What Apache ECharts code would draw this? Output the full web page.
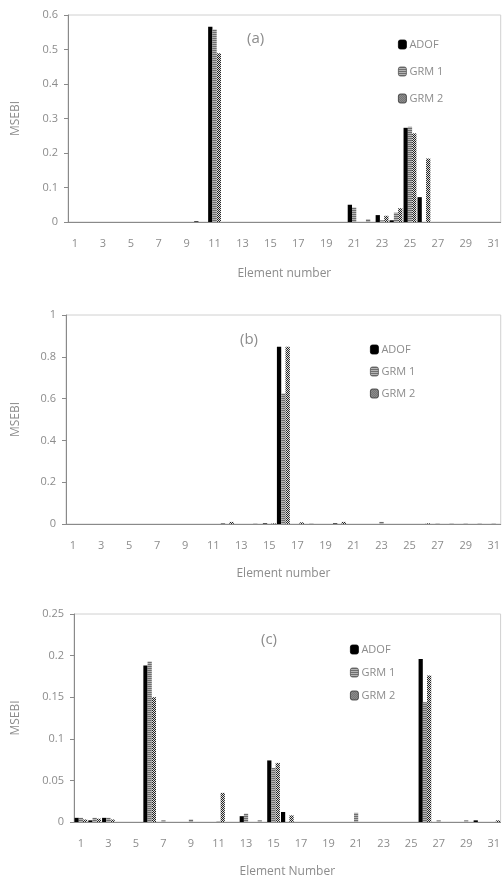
<!DOCTYPE html>
<html>
<head>
<meta charset="utf-8">
<script src="https://cdn.jsdelivr.net/npm/echarts@6/dist/echarts.min.js"></script>
<style>
  html, body { margin: 0; padding: 0; background: #fff; }
  #chart { width: 503px; height: 879px; }
</style>
</head>
<body>
<div id="chart"></div>
<script>
// element numbers 1..31
const elements = Array.from({ length: 31 }, (_, i) => String(i + 1))

// nonzero values only, keyed by element number
const adofA = { 10: 0.002, 11: 0.566, 21: 0.05, 23: 0.02, 24: 0.005, 25: 0.273, 26: 0.072 }
const grm1A = { 11: 0.558, 21: 0.042, 22: 0.008, 23: 0.005, 24: 0.027, 25: 0.276 }
const grm2A = { 11: 0.489, 23: 0.018, 24: 0.04, 25: 0.257, 26: 0.184 }

const adofB = { 12: 0.002, 15: 0.003, 16: 0.848, 20: 0.003 }
const grm1B = { 14: 0.003, 16: 0.625, 18: 0.003, 23: 0.01, 27: 0.003, 28: 0.003, 29: 0.003, 30: 0.003, 31: 0.003 }
const grm2B = { 12: 0.01, 15: 0.003, 16: 0.848, 17: 0.008, 20: 0.01, 26: 0.003 }

const adofC = { 1: 0.005, 2: 0.002, 3: 0.005, 6: 0.188, 13: 0.007, 15: 0.074, 16: 0.012, 26: 0.196, 30: 0.002 }
const grm1C = { 1: 0.005, 2: 0.005, 3: 0.005, 6: 0.193, 7: 0.002, 9: 0.003, 11: 0.001, 13: 0.01, 14: 0.002, 15: 0.065, 21: 0.011, 26: 0.144, 27: 0.002, 29: 0.002 }
const grm2C = { 1: 0.003, 2: 0.004, 3: 0.003, 6: 0.15, 11: 0.035, 15: 0.071, 16: 0.008, 26: 0.176, 31: 0.002 }

const panelLabels = ['(a)', '(b)', '(c)']
const yMax = [0.6, 1, 0.25]
const yStep = [0.1, 0.2, 0.05]
const xNames = ['Element number', 'Element number', 'Element Number']

const textColor = '#8c8c8c'
const fontFamily = '"Open Sans", "Liberation Sans", sans-serif'

function toArray(obj) {
  return elements.map(e => obj[e] || 0)
}

// small repeating fills for the hatched bars
function makePattern(rows) {
  const c = document.createElement('canvas')
  c.width = rows[0].length
  c.height = rows.length
  const ctx = c.getContext('2d')
  rows.forEach((row, y) => {
    row.forEach((col, x) => {
      ctx.fillStyle = col
      ctx.fillRect(x, y, 1, 1)
    })
  })
  return { image: c, repeat: 'repeat' }
}

const grm1Fill = makePattern([
  ['#6e6e6e', '#6e6e6e'],
  ['#b4b4b4', '#b4b4b4']
])
const grm2Fill = makePattern([
  ['#222', '#e0e0e0'],
  ['#e0e0e0', '#222']
])

const styles = [
  { name: 'ADOF', color: '#000', border: '#000' },
  { name: 'GRM 1', color: grm1Fill, border: '#555' },
  { name: 'GRM 2', color: grm2Fill, border: '#333' }
]

const panels = [
  [adofA, grm1A, grm2A],
  [adofB, grm1B, grm2B],
  [adofC, grm1C, grm2C]
]

const grids = [
  { left: 68, right: 2, top: 15, height: 207 },
  { left: 66, right: 2, top: 315, height: 209 },
  { left: 74, right: 2, top: 614, height: 212 }
]
const yNameGaps = [46, 44, 52]
const xNameGaps = [46, 44, 44]
const legendPos = [
  { left: 398, top: 39, gap: 16 },
  { left: 370, top: 344, gap: 11 },
  { left: 350, top: 644, gap: 12 }
]
const labelPos = [
  { left: 242, top: 26 },
  { left: 235, top: 327 },
  { left: 256, top: 627 }
]

const chart = echarts.init(document.getElementById('chart'))

const option = {
  backgroundColor: '#fff',
  animation: false,
  textStyle: { fontFamily },
  title: panelLabels.map((t, i) => ({
    text: t,
    left: labelPos[i].left,
    top: labelPos[i].top,
    textStyle: { color: textColor, fontSize: 15, fontWeight: 'normal', fontFamily }
  })),
  legend: legendPos.map(pos => ({
    orient: 'vertical',
    left: pos.left,
    top: pos.top,
    itemWidth: 8,
    itemHeight: 9,
    itemGap: pos.gap,
    padding: 0,
    selectedMode: false,
    data: styles.map(s => ({
      name: s.name,
      itemStyle: { color: s.color, borderColor: s.border, borderWidth: 0.8 }
    })),
    textStyle: { color: textColor, fontSize: 11, fontFamily, padding: [0, 0, 0, -2] }
  })),
  grid: grids.map(g => ({
    ...g,
    show: true,
    borderColor: '#d0d0d0',
    borderWidth: 1
  })),
  xAxis: grids.map((g, i) => ({
    type: 'category',
    gridIndex: i,
    data: elements,
    name: xNames[i],
    nameLocation: 'middle',
    nameGap: xNameGaps[i],
    nameTextStyle: { color: textColor, fontSize: 12, fontFamily },
    axisLine: { lineStyle: { color: '#8a8a8a', width: 1 } },
    axisTick: { show: false },
    axisLabel: { interval: 1, color: textColor, fontSize: 11, margin: 16, fontFamily }
  })),
  yAxis: grids.map((g, i) => ({
    type: 'value',
    gridIndex: i,
    min: 0,
    max: yMax[i],
    interval: yStep[i],
    name: 'MSEBI',
    nameLocation: 'middle',
    nameRotate: 90,
    nameGap: yNameGaps[i],
    nameTextStyle: { color: textColor, fontSize: 12, fontFamily },
    axisLine: { show: true, lineStyle: { color: '#8a8a8a', width: 1 } },
    axisTick: { show: true, length: 4, lineStyle: { color: '#8a8a8a' } },
    splitLine: { show: false },
    axisLabel: { color: textColor, fontSize: 11, margin: 10, fontFamily }
  })),
  series: []
}

panels.forEach((p, i) => {
  p.forEach((vals, j) => {
    option.series.push({
      type: 'bar',
      name: styles[j].name,
      xAxisIndex: i,
      yAxisIndex: i,
      data: toArray(vals),
      barGap: '0%',
      barCategoryGap: '8%',
      itemStyle: { color: styles[j].color }
    })
  })
})

chart.setOption(option)
</script>
</body>
</html>
